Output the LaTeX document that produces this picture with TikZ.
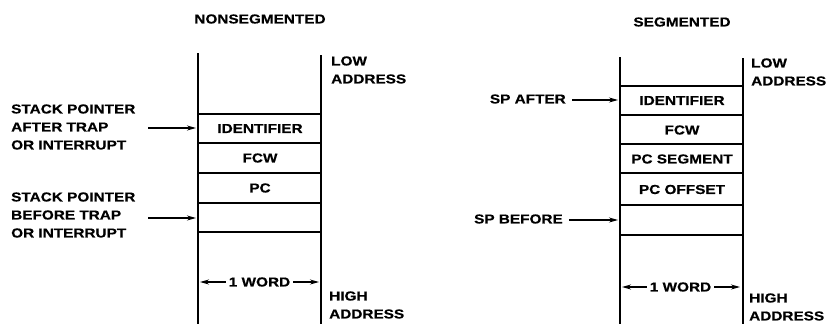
\documentclass[tikz,border=0pt]{standalone}
\usepackage{fontspec}
\setmainfont{Liberation Sans}[FakeStretch=1.18,FakeBold=0.5]
\usetikzlibrary{arrows.meta}
\tikzset{
  txt/.style={font=\fontsize{13}{18}\selectfont\bfseries, inner sep=0pt},
  lbl/.style={txt, align=left, anchor=west},
  wall/.style={line width=1.8pt},
  sepline/.style={line width=1.2pt},
  ptr/.style={line width=1.2pt, -{Stealth[length=9pt,width=5pt]}},
}
\begin{document}
\begin{tikzpicture}[x=1pt,y=-1pt]
\useasboundingbox (0,0) rectangle (827,324);
% ---------- NONSEGMENTED ----------
\node[txt] (t1) at (260,19) {NONSEGMENTED};
\coordinate (l1t) at (198,53); \coordinate (l1b) at (198,324);
\coordinate (r1t) at (321,55); \coordinate (r1b) at (321,324);
\draw[wall] (l1t) -- (l1b);
\draw[wall] (r1t) -- (r1b);
\foreach \y in {114,143,173,203,232} \draw[sepline] (198,\y) -- (321,\y);
\node[txt] (id1) at (260,128.5) {IDENTIFIER};
\node[txt] (fcw1) at (260,158) {FCW};
\node[txt] (pc1) at (260,188) {PC};
\node[lbl] (low1) at (331,70) {LOW\\ADDRESS};
\node[lbl] (high1) at (329,305) {HIGH\\ADDRESS};
\node[lbl] (spa1) at (11,127) {STACK POINTER\\AFTER TRAP\\OR INTERRUPT};
\node[lbl] (spb1) at (11,215) {STACK POINTER\\BEFORE TRAP\\OR INTERRUPT};
\coordinate (a1s) at (148,128); \coordinate (a1e) at (196,128);
\coordinate (b1s) at (148,218); \coordinate (b1e) at (196,218);
\draw[ptr] (a1s) -- (a1e);
\draw[ptr] (b1s) -- (b1e);
\node[txt] (w1) at (259.5,282) {1 WORD};
\coordinate (w1l) at (200,282); \coordinate (w1r) at (319,282);
\draw[ptr] ([xshift=-3pt]w1.west) -- (w1l);
\draw[ptr] ([xshift=3pt]w1.east) -- (w1r);
% ---------- SEGMENTED ----------
\node[txt] (t2) at (682,22) {SEGMENTED};
\coordinate (l2t) at (620,57); \coordinate (l2b) at (620,324);
\coordinate (r2t) at (743,58); \coordinate (r2b) at (743,324);
\draw[wall] (l2t) -- (l2b);
\draw[wall] (r2t) -- (r2b);
\foreach \y in {86,115,144,173,205,235} \draw[sepline] (620,\y) -- (743,\y);
\node[txt] (id2) at (682,100.5) {IDENTIFIER};
\node[txt] (fcw2) at (682,130) {FCW};
\node[txt] (pcs2) at (682,159) {PC SEGMENT};
\node[txt] (pco2) at (682,189.5) {PC OFFSET};
\node[lbl] (low2) at (751,72) {LOW\\ADDRESS};
\node[lbl] (high2) at (749,307) {HIGH\\ADDRESS};
\node[txt, anchor=east] (spa2) at (566,99) {SP AFTER};
\node[txt, anchor=east] (spb2) at (563,219) {SP BEFORE};
\coordinate (a2e) at (618,100); \coordinate (b2e) at (618,220);
\draw[ptr] ([xshift=6pt]spa2.east |- a2e) -- (a2e);
\draw[ptr] ([xshift=6pt]spb2.east |- b2e) -- (b2e);
\node[txt] (w2) at (680.5,287) {1 WORD};
\coordinate (w2l) at (622,287); \coordinate (w2r) at (740,287);
\draw[ptr] ([xshift=-3pt]w2.west) -- (w2l);
\draw[ptr] ([xshift=3pt]w2.east) -- (w2r);
\end{tikzpicture}
\end{document}
